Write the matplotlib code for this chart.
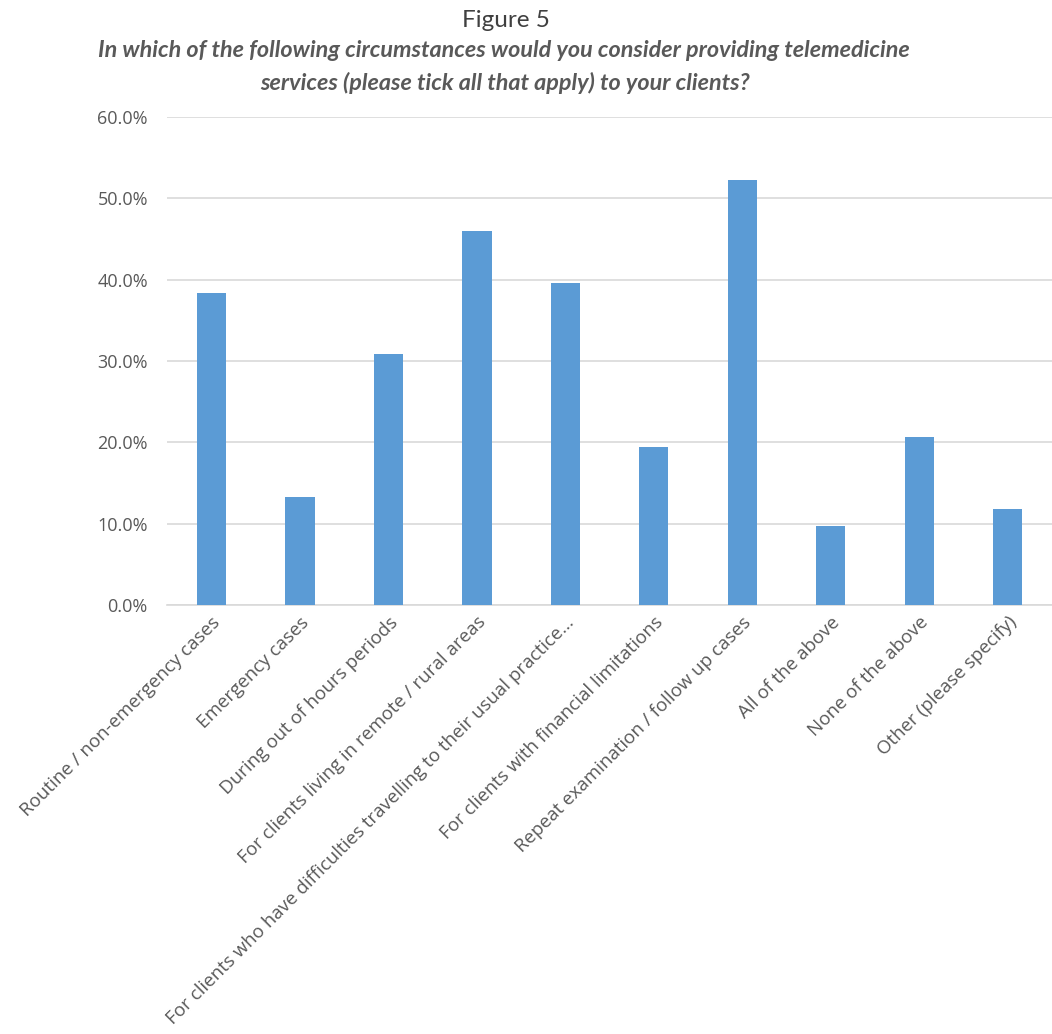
import numpy as np
import matplotlib.pyplot as plt
from matplotlib.ticker import PercentFormatter

# survey answers (share of respondents)
categories = [
    "Routine / non-emergency cases",
    "Emergency cases",
    "During out of hours periods",
    "For clients living in remote / rural areas",
    "For clients who have difficulties travelling to their usual practice...",
    "For clients with financial limitations",
    "Repeat examination / follow up cases",
    "All of the above",
    "None of the above",
    "Other (please specify)",
]
values = [38.4, 13.3, 30.9, 46.0, 39.6, 19.4, 52.2, 9.7, 20.7, 11.8]
yticks = [0, 10, 20, 30, 40, 50, 60]

plt.rcParams['font.family'] = ['Lato', 'DejaVu Sans']

fig = plt.figure(figsize=(10.52, 10.34), dpi=100)
ax = fig.add_axes([0.159, 0.415, 0.841, 0.472])

x = np.arange(len(categories))
ax.bar(x, values, width=0.33, color='#5B9BD5', zorder=3)

ax.set_xlim(-0.5, len(categories) - 0.5)
ax.set_ylim(0, 60)
ax.set_yticks(yticks)
ax.yaxis.set_major_formatter(PercentFormatter(decimals=1))
ax.grid(axis='y', color='#D9D9D9', linewidth=1.2, zorder=0)
for s in ['top', 'right', 'left']:
    ax.spines[s].set_visible(False)
ax.spines['bottom'].set_color('#D9D9D9')
ax.spines['bottom'].set_linewidth(1.2)
ax.tick_params(axis='y', length=0, colors='#595959', pad=14)
ax.tick_params(axis='x', length=0, colors='#595959', pad=6)
for lbl in ax.get_yticklabels():
    lbl.set_family('Open Sans')
    lbl.set_fontsize(13)

ax.set_xticks(x)
ax.set_xticklabels(categories, rotation=45, ha='right', va='top', rotation_mode='anchor',
                   family='Open Sans', fontsize=13.5)

fig.text(0.481, 0.980, "Figure 5", ha='center', va='center', fontsize=17.5, color='#404040')
fig.text(0.479, 0.951, "In which of the following circumstances would you consider providing telemedicine",
         ha='center', va='center', fontsize=16.8, style='italic', fontweight='bold', color='#595959')
fig.text(0.48, 0.920, "services (please tick all that apply) to your clients?",
         ha='center', va='center', fontsize=16.8, style='italic', fontweight='bold', color='#595959')

fig.savefig('out.png', dpi=100, facecolor='white')
